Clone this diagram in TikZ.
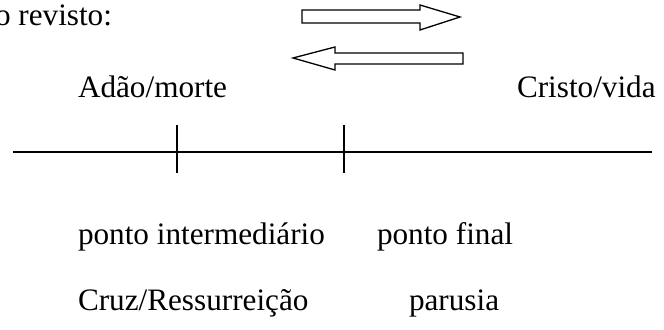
\documentclass[tikz,border=0pt]{standalone}
\usepackage{fontspec}
\setmainfont{Liberation Serif}
\usetikzlibrary{positioning}

\begin{document}
\begin{tikzpicture}[x=0.3846pt,y=-0.3846pt,
    every node/.style={inner sep=0pt,outer sep=0pt,anchor=base west,font=\fontsize{12}{14}\selectfont},
    blockarrow/.style={draw,line width=0.5pt,line join=miter,fill=white},
    axis/.style={line width=0.6pt}]
  \useasboundingbox (0,0) rectangle (664,330);

  \node (title) [anchor=base east] at (112,26) {o revisto:};

  % block arrows
  \draw [blockarrow] (302,10) -- (420,10) -- (420,5) -- (460,17) -- (420,30) -- (420,23) -- (302,23) -- cycle;
  \draw [blockarrow] (463,53) -- (335,53) -- (335,47) -- (293,58) -- (335,70) -- (335,64) -- (463,64) -- cycle;

  \node (adam) at (78,98) {Adão/morte};
  \node (christ) at (517,98) {Cristo/vida};

  % timeline
  \coordinate (start) at (13,152);
  \coordinate (stop) at (652,152);
  \coordinate (mid) at (177,152);
  \coordinate (end) at (344,152);
  \draw [axis] (start) -- (stop);
  \draw [axis] (mid) ++(0,-27) -- ++(0,48);
  \draw [axis] (end) ++(0,-27) -- ++(0,48);

  \node (inter) at (78,245) {ponto intermediário};
  \node (final) at (377,245) {ponto final};
  \node (cross) at (78,311) {Cruz/Ressurreição};
  \node (parousia) at (409,311) {parusia};
\end{tikzpicture}
\end{document}
